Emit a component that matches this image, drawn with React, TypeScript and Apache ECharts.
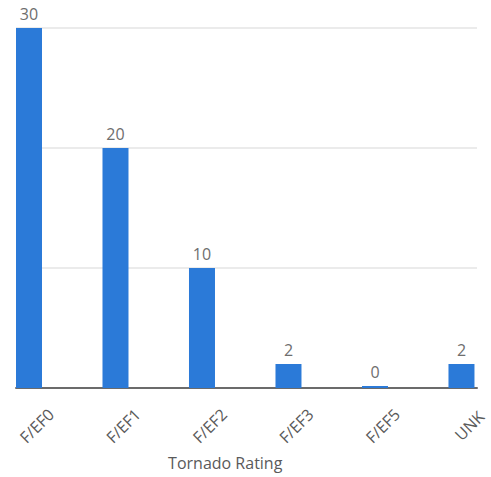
import React, { useEffect, useRef } from "react";
import * as echarts from "echarts";

const categories = ["F/EF0", "F/EF1", "F/EF2", "F/EF3", "F/EF5", "UNK"];
const counts = [30, 20, 10, 2, 0, 2];
const axisTitle = "Tornado Rating";
const yMin = 0;
const yMax = 30;
const yStep = 10;

export default function App() {
  const ref = useRef<HTMLDivElement>(null);
  useEffect(() => {
    if (!ref.current) return;
    const chart = echarts.init(ref.current, null, { renderer: "svg" });
    const font = "'Open Sans', 'Noto Sans', sans-serif";
    chart.setOption({
      animation: false,
      backgroundColor: "#ffffff",
      textStyle: { fontFamily: font },
      grid: [
        { left: 16, right: 14, top: 28, bottom: 89 },
        { left: 29, right: 27, top: 28, bottom: 89 },
      ],
      xAxis: [
        {
          type: "value",
          gridIndex: 0,
          min: 0,
          max: 1,
          axisLine: { show: true, lineStyle: { color: "#6b6b6b", width: 2 } },
          axisTick: { show: false },
          axisLabel: { show: false },
          splitLine: { show: false },
        },
        {
          type: "category",
          gridIndex: 1,
          data: categories,
          boundaryGap: false,
          axisLine: { show: false },
          axisTick: { show: false },
          splitLine: { show: false },
          axisLabel: {
            interval: 0,
            rotate: 45,
            align: "center",
            verticalAlign: "top",
            lineHeight: 22,
            margin: 30,
            fontSize: 16,
            color: "#5a5a5a",
            fontFamily: font,
          },
          name: axisTitle,
          nameLocation: "middle",
          nameGap: 67,
          nameTextStyle: {
            fontSize: 16,
            color: "#5a5a5a",
            fontFamily: font,
            padding: [0, 40, 0, 0],
          },
        },
      ],
      yAxis: [
        {
          type: "value",
          gridIndex: 0,
          min: yMin,
          max: yMax,
          interval: yStep,
          axisLine: { show: false },
          axisTick: { show: false },
          axisLabel: { show: false },
          splitLine: { show: true, lineStyle: { color: "#e4e4e4", width: 1.5 } },
        },
        {
          type: "value",
          gridIndex: 1,
          min: yMin,
          max: yMax,
          interval: yStep,
          show: false,
          splitLine: { show: false },
        },
      ],
      series: [
        {
          type: "bar",
          xAxisIndex: 1,
          yAxisIndex: 1,
          data: counts,
          barWidth: 26,
          barMinHeight: 2,
          clip: false,
          itemStyle: { color: "#2b7ad8" },
          label: {
            show: true,
            position: "top",
            distance: 6,
            fontSize: 16,
            color: "#6e6e6e",
            fontFamily: font,
          },
        },
      ],
    });
    return () => chart.dispose();
  }, []);
  return (
    <div
      ref={ref}
      style={{ position: "fixed", left: 0, top: 0, width: 491, height: 477 }}
    />
  );
}
